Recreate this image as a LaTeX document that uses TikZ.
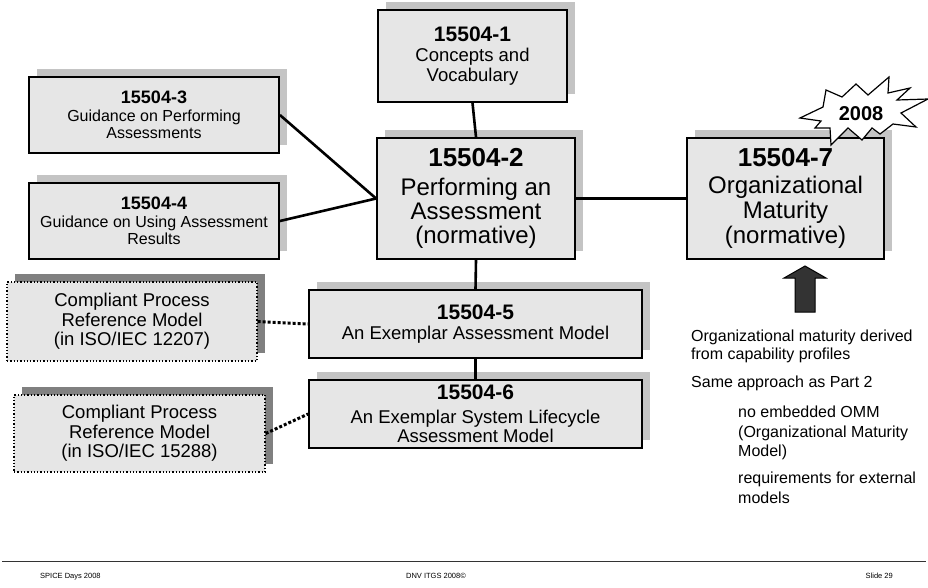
\documentclass[tikz,border=0pt]{standalone}
\usepackage{fontspec}
\setmainfont{Liberation Sans}
\usetikzlibrary{shadows}
\definecolor{boxfill}{HTML}{E6E6E6}
\definecolor{boxshade}{HTML}{C4C4C4}
\definecolor{refshade}{HTML}{808080}
\definecolor{arrowfill}{HTML}{333333}
\newcommand{\fsz}[2]{\fontsize{#1}{#2}\selectfont}
\begin{document}
\begin{tikzpicture}[x=1pt,y=-1pt,
  part/.style={draw=black,line width=1.8pt,fill=boxfill,align=center,
    inner sep=0pt,
    drop shadow={shadow xshift=8pt,shadow yshift=8pt,opacity=1,fill=boxshade}},
  refmodel/.style={draw=black,line width=1.3pt,dotted,fill=boxfill,align=center,
    inner sep=0pt,font=\fsz{18.5}{19.5},
    drop shadow={shadow xshift=8pt,shadow yshift=8pt,opacity=1,fill=refshade}},
  link/.style={line width=2.6pt,black},
  reflink/.style={line width=3pt,black,dash pattern=on 3pt off 2pt},
  note/.style={anchor=north west,align=left,inner sep=0pt,font=\fsz{16}{18}},
  foot/.style={anchor=base,inner sep=0pt,font=\fsz{7.5}{9}}]
\useasboundingbox (0,0) rectangle (928,587);

% parts of the standard
\node[part,minimum width=189pt,minimum height=92pt,font=\fsz{18.5}{19.5}] (p1) at (472.5,56)
  {{\fsz{21}{20}\bfseries 15504-1}\\[1pt]Concepts and\\Vocabulary};
\node[part,minimum width=198pt,minimum height=121pt,font=\fsz{24}{24}] (p2) at (476,198.5)
  {{\fsz{26}{25}\bfseries 15504-2}\\[5pt]Performing an\\Assessment\\(normative)};
\node[part,minimum width=250pt,minimum height=76pt,font=\fsz{16}{17.5}] (p3) at (154,115)
  {{\fsz{18}{17.5}\bfseries 15504-3}\\Guidance on Performing\\Assessments};
\node[part,minimum width=250pt,minimum height=76pt,font=\fsz{16}{17.5}] (p4) at (154,221)
  {{\fsz{18}{17.5}\bfseries 15504-4}\\Guidance on Using Assessment\\Results};
\node[part,minimum width=333pt,minimum height=68pt,font=\fsz{18.5}{20}] (p5) at (475.5,324)
  {{\fsz{21}{20}\bfseries 15504-5}\\An Exemplar Assessment Model};
\node[part,minimum width=333pt,minimum height=68pt,font=\fsz{18.5}{19.5}] (p6) at (475.5,414)
  {{\fsz{21}{20}\bfseries 15504-6}\\[4pt]An Exemplar System Lifecycle\\Assessment Model};
\node[part,minimum width=197pt,minimum height=121pt,font=\fsz{24}{25}] (p7) at (785.5,198.5)
  {{\fsz{26}{25}\bfseries 15504-7}\\[2pt]Organizational\\Maturity\\(normative)};

% process reference models
\node[refmodel,minimum width=250pt,minimum height=79pt] (ra) at (132,321.5)
  {Compliant Process\\Reference Model\\(in ISO/IEC 12207)};
\node[refmodel,minimum width=251pt,minimum height=77pt] (rb) at (139.5,433.5)
  {Compliant Process\\Reference Model\\(in ISO/IEC 15288)};

% connectors
\draw[link] (p1.south) -- (p2.north);
\draw[link] (p3.east) -- (p2.west);
\draw[link] (p4.east) -- (p2.west);
\draw[link] (p2.east) -- (p7.west);
\draw[link] (p2.south) -- (p5.north);
\draw[link] (p5.south) -- (p6.north);
\draw[reflink] (ra.east) -- (p5.west);
\draw[reflink] (rb.east) -- (p6.west);

% 2008 burst
\draw[fill=white,line width=1.2pt,line join=miter]
  (800,118) -- (823,107) -- (826,90) -- (842,97) -- (856,84) -- (868,95)
  -- (889,77) -- (888,93) -- (910,88) -- (897,100) -- (928,99) -- (901,113)
  -- (916,127) -- (893,124) -- (880,134) -- (872,128) -- (862,140)
  -- (848,128) -- (831,145) -- (830,128) -- (815,128) -- (821,121) -- cycle;
\node[inner sep=0pt,font=\fsz{20}{20}\bfseries] (year) at (861,114) {2008};

% block arrow under part 7
\draw[fill=arrowfill,line width=1pt,line join=miter]
  (795,312) -- (815,312) -- (815,278) -- (826,278) -- (805,266) -- (784,278)
  -- (795,278) -- cycle;

% notes
\node[note] (n1) at (691,330) {Organizational maturity derived\\from capability profiles};
\node[note] (n2) at (691,376) {Same approach as Part 2};
\node[note,font=\fsz{16}{19.5}] (n3) at (738,406) {no embedded OMM\\(Organizational Maturity\\Model)};
\node[note,font=\fsz{16}{19.5}] (n4) at (738,472) {requirements for external\\models};

% footer
\coordinate (fl) at (2,561);
\coordinate (fr) at (926,561);
\draw[line width=1pt,black!80] (fl) -- (fr);
\node[foot,anchor=base west] (f1) at (40,578) {SPICE Days 2008};
\node[foot] (f2) at (436,578) {DNV ITGS 2008©};
\node[foot,anchor=base east] (f3) at (893,578) {Slide 29};
\end{tikzpicture}
\end{document}
